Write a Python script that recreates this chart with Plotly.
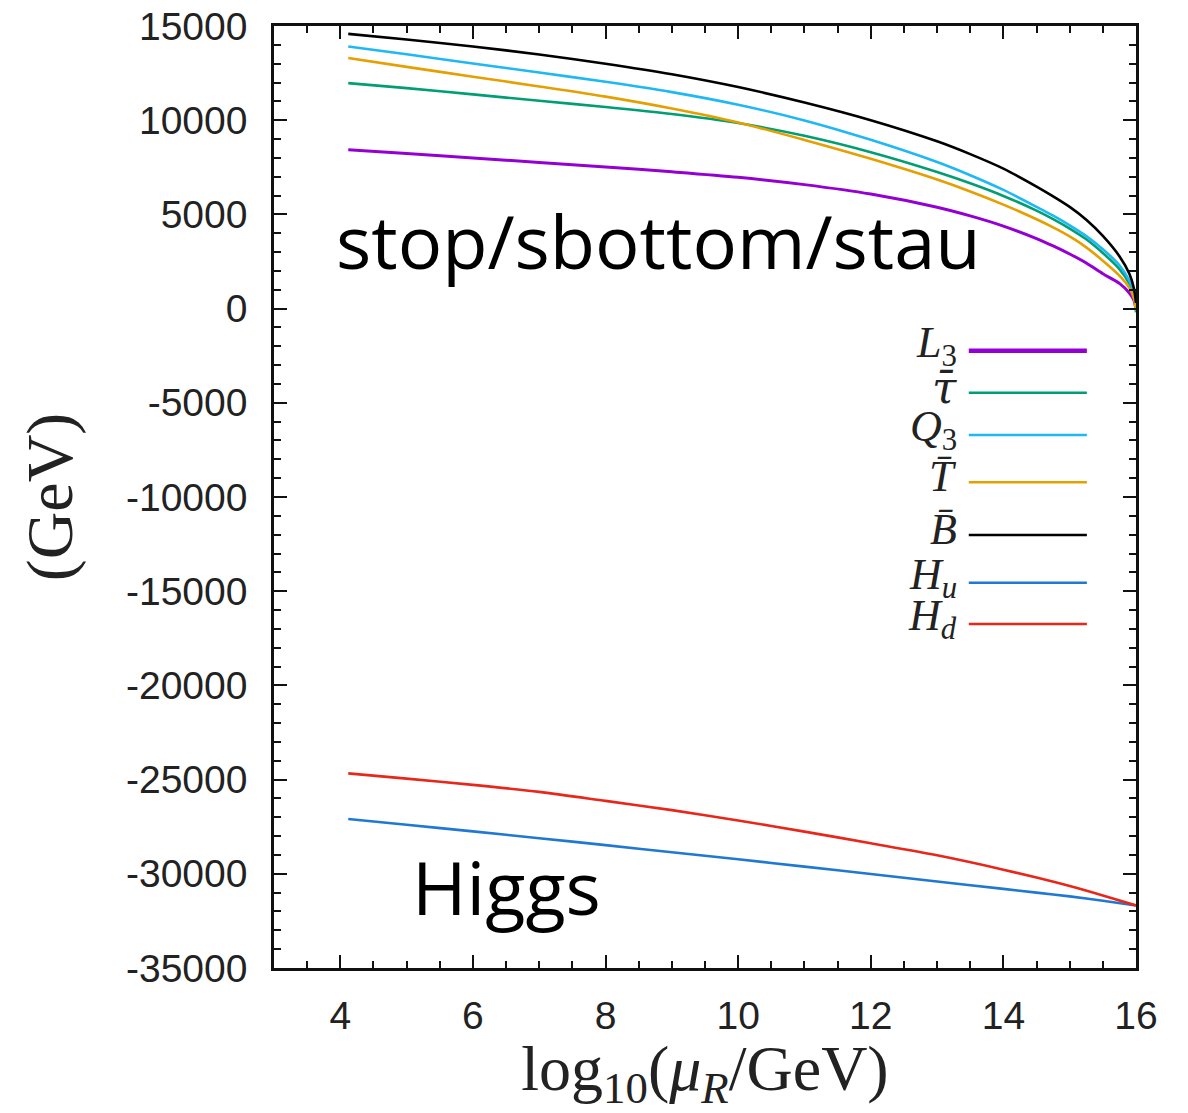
import plotly.graph_objects as go

# ---------------- data ----------------
x_sf = [4.12, 5, 6, 7, 8, 9, 10, 11, 12, 13, 13.5, 14, 14.5, 14.75, 15, 15.25, 15.5, 15.75, 15.9, 15.97, 16.0]
L3   = [8430, 8230, 8000, 7760, 7520, 7260, 6970, 6580, 6080, 5380, 4920, 4380, 3720, 3330, 2900, 2420, 1850, 1340, 830, 430, -80]
taub = [11970, 11700, 11370, 11030, 10700, 10330, 9850, 9170, 8300, 7250, 6650, 5980, 5200, 4750, 4250, 3680, 2950, 2100, 1330, 720, -200]
Q3   = [13910, 13500, 13010, 12530, 12040, 11490, 10820, 9990, 8960, 7780, 7080, 6300, 5400, 4930, 4420, 3850, 3150, 2300, 1480, 820, -100]
Tb   = [13300, 12830, 12310, 11790, 11250, 10620, 9880, 8950, 7950, 6850, 6220, 5520, 4740, 4310, 3830, 3250, 2540, 1750, 1100, 530, -100]
Bb   = [14580, 14280, 13910, 13490, 13000, 12440, 11760, 10940, 10000, 8880, 8200, 7430, 6480, 5960, 5400, 4720, 3860, 2780, 1850, 1050, 300]

x_h = [4.12, 5, 6, 7, 8, 9, 10, 11, 12, 13, 14, 14.5, 15, 15.5, 16.0]
Hu  = [-27090, -27400, -27750, -28110, -28480, -28860, -29230, -29620, -30010, -30410, -30800, -31000, -31200, -31430, -31680]
Hd  = [-24670, -24950, -25280, -25650, -26130, -26620, -27170, -27760, -28380, -29020, -29780, -30200, -30650, -31150, -31680]

series_names = ["L3", "taubar", "Q3", "Tbar", "Bbar", "Hu", "Hd"]
legend_labels = ["<i>L</i><sub>3</sub>",
                 "<span style='font-family:DejaVu Serif'><i>τ̄</i></span>",
                 "<i>Q</i><sub>3</sub>", "<i>T̄</i>",
                 "<i>B̄</i>", "<i>H</i><sub><i>u</i></sub>", "<i>H</i><sub><i>d</i></sub>"]

x_tickvals = [4, 6, 8, 10, 12, 14, 16]
x_ticktext = ["4", "6", "8", "10", "12", "14", "16"]
y_tickvals = [15000, 10000, 5000, 0, -5000, -10000, -15000, -20000, -25000, -30000, -35000]
y_ticktext = ["15000", "10000", "5000", "0", "-5000", "-10000", "-15000", "-20000", "-25000", "-30000", "-35000"]

# ---------------- styles ----------------
colors = ["#9400d3", "#009e73", "#1fb8f5", "#e69f00", "#000000", "#1f78d1", "#e8261a"]
widths = [3.0, 2.6, 2.6, 2.6, 2.6, 2.6, 2.6]

xs = [x_sf, x_sf, x_sf, x_sf, x_sf, x_h, x_h]
ys = [L3, taub, Q3, Tb, Bb, Hu, Hd]

fig = go.Figure()
for name, xx, yy, c, w in zip(series_names, xs, ys, colors, widths):
    fig.add_trace(go.Scatter(x=xx, y=yy, mode="lines", name=name,
                             line=dict(color=c, width=w, shape="spline", smoothing=0.8),
                             showlegend=False, hoverinfo="skip"))

# manual gnuplot-style legend (text right, sample line to the right)
leg_y = [0.6553, 0.6107, 0.5658, 0.5156, 0.4597, 0.4090, 0.3652]
for lab, yy, c, w in zip(legend_labels, leg_y, colors, widths):
    fig.add_annotation(x=0.795, y=yy + 0.006, xref="paper", yref="paper", text=lab,
                       showarrow=False, xanchor="right", yanchor="middle",
                       font=dict(family="Liberation Serif", size=44, color="#222"))
    fig.add_shape(type="line", xref="paper", yref="paper", x0=0.806, x1=0.943, y0=yy, y1=yy,
                  line=dict(color=c, width=w + (1.4 if c == "#9400d3" else 0)))

fig.add_annotation(x=3.9, y=3600, text="stop/sbottom/stau", showarrow=False,
                   xanchor="left", yanchor="middle",
                   font=dict(family="Open Sans", size=74, color="#000"))
fig.add_annotation(x=5.05, y=-30700, text="Higgs", showarrow=False,
                   xanchor="left", yanchor="middle",
                   font=dict(family="Open Sans", size=74, color="#000"))

axis_common = dict(showline=True, linecolor="#111", linewidth=2.5, mirror="allticks",
                   ticks="inside", ticklen=13, tickwidth=2, tickcolor="#111",
                   showgrid=False, zeroline=False, automargin=False,
                   tickfont=dict(family="Liberation Sans", size=39, color="#222"))

fig.update_xaxes(range=[3, 16], tickvals=x_tickvals, ticktext=x_ticktext,
                 minor=dict(ticks="inside", ticklen=7, tickwidth=2, tickcolor="#111", dtick=0.5, tick0=0),
                 ticklabelstandoff=11,
                 title=dict(text="log<sub>10</sub>(<i>μ<sub>R</sub></i>/GeV)", standoff=4,
                            font=dict(family="Liberation Serif", size=64, color="#222")),
                 **axis_common)
fig.update_yaxes(range=[-35000, 15000], tickvals=y_tickvals, ticktext=y_ticktext,
                 minor=dict(ticks="inside", ticklen=7, tickwidth=2, tickcolor="#111", dtick=1000, tick0=0),
                 ticklabelstandoff=16,
                 title=dict(text="(GeV)", standoff=32,
                            font=dict(family="Liberation Serif", size=66, color="#222")),
                 **axis_common)

fig.update_layout(width=1188, height=1113, plot_bgcolor="white", paper_bgcolor="white",
                  margin=dict(l=274, r=52, t=26, b=145), showlegend=False)

fig.write_html("out.html")
